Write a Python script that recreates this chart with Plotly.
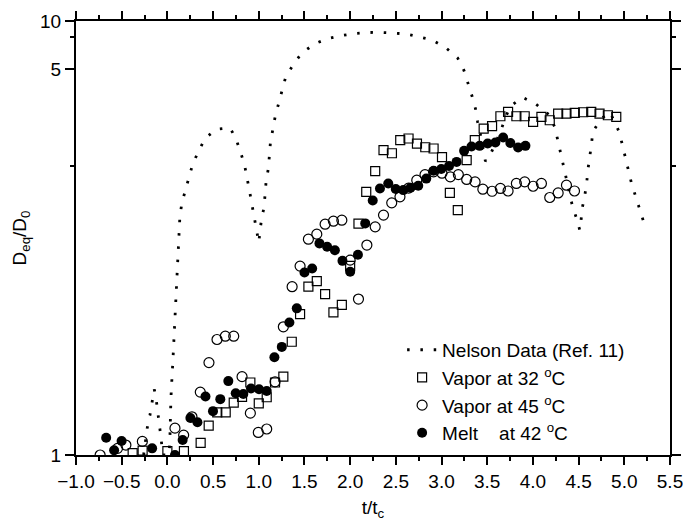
import plotly.graph_objects as go

# ---------------- data ----------------
nelson_x = [-0.26, -0.221, -0.191, -0.144, -0.126, -0.107, -0.089, -0.071, -0.05, 0.02,
            0.028, 0.030, 0.036, 0.039, 0.046, 0.057, 0.061, 0.068, 0.075, 0.079,
            0.086, 0.094, 0.101, 0.108, 0.119, 0.126, 0.130, 0.137, 0.159, 0.195,
            0.236, 0.277, 0.338, 0.411, 0.535, 0.685, 0.748, 0.798, 0.842, 0.897,
            0.923, 0.952, 0.981, 1.000, 1.028, 1.058, 1.080, 1.105, 1.127, 1.149,
            1.178, 1.215, 1.255, 1.291, 1.372, 1.471, 1.617, 1.756, 1.902, 2.044,
            2.183, 2.310, 2.468, 2.611, 2.756, 2.896, 3.041, 3.176, 3.246, 3.290,
            3.334, 3.373, 3.395, 3.427, 3.452, 3.480, 3.523, 3.585, 3.647, 3.699,
            3.753, 3.885, 4.024, 4.173, 4.239, 4.272, 4.305, 4.338, 4.370, 4.430,
            4.477, 4.513, 4.524, 4.539, 4.566, 4.588, 4.601, 4.623, 4.641, 4.655,
            4.747, 4.844, 4.944, 4.977, 5.013, 5.050, 5.079, 5.123, 5.170, 5.214]
nelson_y = [1.000, 1.059, 1.090, 1.158, 1.137, 1.103, 1.070, 1.039, 1.000, 1.000,
            1.039, 1.070, 1.101, 1.135, 1.170, 1.208, 1.247, 1.291, 1.337, 1.389,
            1.440, 1.501, 1.564, 1.631, 1.707, 1.788, 1.878, 1.981, 2.096, 2.217,
            2.358, 2.521, 2.693, 2.910, 3.081, 3.107, 2.921, 2.708, 2.525, 2.219,
            2.096, 1.981, 1.878, 1.788, 1.948, 2.059, 2.306, 2.464, 2.834, 3.064,
            3.338, 3.668, 4.081, 4.572, 5.214, 6.013, 6.811, 7.328, 7.677, 7.930,
            8.062, 8.103, 8.008, 7.878, 7.510, 7.175, 6.472, 5.660, 4.931, 4.377,
            3.906, 3.534, 3.233, 2.969, 2.749, 2.559, 2.619, 2.813, 3.043, 3.331,
            3.613, 3.874, 3.688, 3.402, 3.128, 2.880, 2.668, 2.493, 2.333, 2.075,
            1.963, 1.874, 1.928, 2.046, 2.159, 2.289, 2.443, 2.619, 2.813, 3.030,
            3.308, 3.458, 3.030, 2.813, 2.610, 2.443, 2.289, 2.159, 2.037, 1.931]

vap32_x = [-0.380, -0.271, 0.000, 0.181, 0.364, 0.452, 0.546, 0.638, 0.726, 0.817,
           0.908, 1.000, 1.087, 1.178, 1.269, 1.361, 1.452, 1.543, 1.635, 1.726,
           1.817, 1.909, 2.000, 2.091, 2.176, 2.274, 2.365, 2.457, 2.548, 2.639,
           2.731, 2.822, 2.913, 3.005, 3.091, 3.178, 3.275, 3.364, 3.461, 3.553,
           3.644, 3.728, 3.819, 3.910, 4.002, 4.093, 4.184, 4.276, 4.367, 4.458,
           4.550, 4.638, 4.729, 4.820, 4.912]
vap32_y = [1.004, 1.009, 1.008, 1.008, 1.026, 1.065, 1.097, 1.097, 1.122, 1.137,
           1.177, 1.120, 1.136, 1.177, 1.194, 1.307, 1.413, 1.536, 1.564, 1.501,
           1.420, 1.452, 1.645, 1.922, 2.201, 2.430, 2.718, 2.672, 2.880, 2.910,
           2.824, 2.764, 2.744, 2.615, 2.190, 2.031, 2.573, 2.880, 3.096, 3.143,
           3.361, 3.465, 3.361, 3.361, 3.233, 3.345, 3.270, 3.425, 3.425, 3.440,
           3.458, 3.465, 3.425, 3.385, 3.345]

vap45_x = [-0.736, -0.545, -0.454, -0.274, 0.083, 0.178, 0.269, 0.360, 0.455, 0.543,
           0.634, 0.726, 0.817, 0.908, 0.995, 1.087, 1.178, 1.269, 1.365, 1.452,
           1.543, 1.635, 1.726, 1.817, 1.909, 2.000, 2.091, 2.183, 2.274, 2.365,
           2.455, 2.545, 2.639, 2.729, 2.819, 2.913, 3.005, 3.096, 3.184, 3.275,
           3.367, 3.452, 3.553, 3.644, 3.728, 3.819, 3.910, 4.002, 4.093, 4.184,
           4.276, 4.367, 4.455]
vap45_y = [1.000, 1.014, 1.021, 1.029, 1.059, 1.043, 1.086, 1.150, 1.237, 1.315,
           1.327, 1.327, 1.194, 1.095, 1.049, 1.057, 1.179, 1.362, 1.536, 1.644,
           1.810, 1.845, 1.918, 1.941, 1.949, 1.678, 1.478, 1.771, 1.898, 1.990,
           2.096, 2.152, 2.239, 2.325, 2.389, 2.422, 2.406, 2.363, 2.389, 2.333,
           2.306, 2.228, 2.207, 2.236, 2.210, 2.289, 2.306, 2.259, 2.289, 2.146,
           2.190, 2.270, 2.210]

melt_x = [-0.670, -0.583, -0.501, -0.167, 0.083, 0.167, 0.252, 0.329, 0.417, 0.499,
          0.579, 0.667, 0.748, 0.831, 0.915, 1.003, 1.087, 1.171, 1.252, 1.335,
          1.416, 1.500, 1.584, 1.664, 1.748, 1.833, 1.916, 2.000, 2.085, 2.165,
          2.247, 2.326, 2.417, 2.499, 2.581, 2.661, 2.745, 2.833, 2.913, 2.997,
          3.082, 3.165, 3.247, 3.328, 3.417, 3.505, 3.589, 3.674, 3.753, 3.838,
          3.918]
melt_y = [1.037, 1.010, 1.030, 1.014, 1.000, 1.032, 1.083, 1.073, 1.138, 1.100,
          1.131, 1.181, 1.147, 1.145, 1.160, 1.158, 1.153, 1.254, 1.289, 1.379,
          1.437, 1.609, 1.631, 1.782, 1.760, 1.738, 1.674, 1.613, 1.710, 1.924,
          2.118, 2.236, 2.289, 2.231, 2.219, 2.244, 2.265, 2.343, 2.436, 2.457,
          2.496, 2.550, 2.708, 2.776, 2.786, 2.824, 2.841, 2.927, 2.834, 2.760,
          2.786]

y_major_vals = [1, 5, 10]
y_major_text = ["1", "5", "10"]
y_minor_vals = [2.5, 7.5]
x_range = [-1.0, 5.5]
y_range = [1, 10]

names = ["Nelson Data (Ref. 11)",
         "Vapor at 32 <sup>o</sup>C",
         "Vapor at 45 <sup>o</sup>C",
         "Melt\u00a0\u00a0\u00a0 at 42 <sup>o</sup>C"]

# The original uses a reciprocal y scale (Origin "Reciprocal"); Plotly has no such
# axis type, so the axis is linear in 1/y with tick labels in y units.
def recip(vals):
    return [1.0 / v for v in vals]

FONT = "Liberation Sans, Arial, sans-serif"

fig = go.Figure()
fig.add_trace(go.Scatter(x=nelson_x, y=recip(nelson_y), mode="lines", name=names[0],
                         legendgroup="a",
                         line=dict(color="black", width=2.8, dash="2.5px,10.8px")))
fig.add_trace(go.Scatter(x=vap32_x, y=recip(vap32_y), mode="markers", name=names[1],
                         legendgroup="b",
                         marker=dict(symbol="square-open", size=9, color="black",
                                     line=dict(width=1.2))))
fig.add_trace(go.Scatter(x=vap45_x, y=recip(vap45_y), mode="markers", name=names[2],
                         legendgroup="c",
                         marker=dict(symbol="circle-open", size=10, color="black",
                                     line=dict(width=1.2))))
fig.add_trace(go.Scatter(x=melt_x, y=recip(melt_y), mode="markers", name=names[3],
                         legendgroup="d",
                         marker=dict(symbol="circle", size=10, color="black",
                                     line=dict(width=0))))

yr = recip(y_range)

fig.update_layout(
    width=683, height=532,
    margin=dict(l=76, r=13, t=20.7, b=77),
    paper_bgcolor="white", plot_bgcolor="white",
    font=dict(family=FONT, size=19, color="black"),
    showlegend=True,
    legend=dict(x=0.549, y=0.286, xanchor="left", yanchor="top",
                bgcolor="rgba(0,0,0,0)", borderwidth=0,
                font=dict(family=FONT, size=19, color="black"),
                traceorder="grouped", tracegroupgap=0),
    xaxis=dict(range=x_range, dtick=0.5, tick0=-1.0, showgrid=False, zeroline=False,
               automargin=False, ticks="outside", ticklen=8, tickwidth=1.5,
               tickcolor="black", tickformat=".1f", showline=True, linewidth=2,
               linecolor="black", mirror="allticks", ticklabeloverflow="allow",
               minor=dict(ticks="outside", ticklen=4, tickwidth=1.5, tickcolor="black",
                          dtick=0.25, tick0=-1.0, showgrid=False),
               tickfont=dict(size=19),
               title=dict(text="t/t<sub>c</sub>", font=dict(size=19), standoff=10)),
    yaxis=dict(range=yr, tickmode="array", tickvals=recip(y_major_vals),
               ticktext=y_major_text, showgrid=False, zeroline=False, automargin=False,
               ticks="outside", ticklen=9, tickwidth=1.5, tickcolor="black",
               showline=True, linewidth=2, linecolor="black", mirror="allticks",
               ticklabeloverflow="allow",
               minor=dict(tickmode="array", tickvals=recip(y_minor_vals), ticks="outside",
                          ticklen=4, tickwidth=1.5, tickcolor="black", showgrid=False),
               tickfont=dict(size=19),
               title=dict(text="D<sub>eq</sub>/D<sub>0</sub>", font=dict(size=19), standoff=8)),
)

# remove the default 8 px page margin so the 683x532 figure fills the window exactly
fig.write_html("out.html", config={"displayModeBar": False},
               post_script="document.body.style.margin='0';"
                           "document.body.style.overflow='hidden';")
